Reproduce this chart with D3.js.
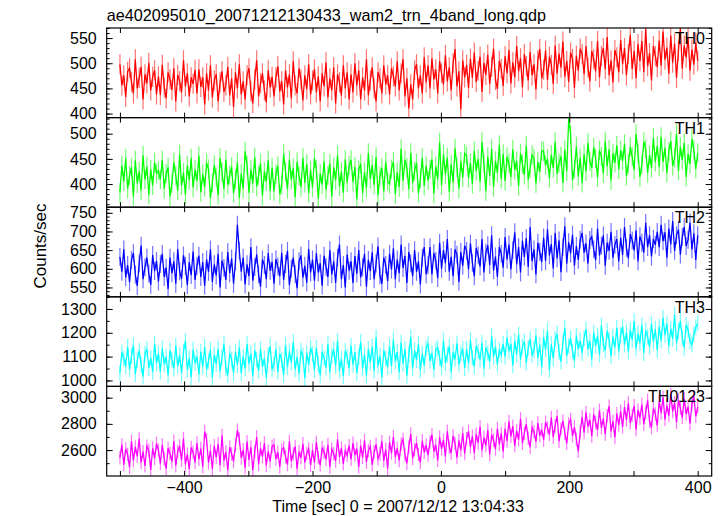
<!DOCTYPE html>
<html><head><meta charset="utf-8">
<script src="https://cdn.jsdelivr.net/npm/d3@7"></script>
<style>body{margin:0;background:#fff} text{font-family:"Liberation Sans",Arial,Helvetica,sans-serif;fill:#000}</style>
</head><body><svg id="c" width="724" height="516"></svg>
<script>
const title = "ae402095010_20071212130433_wam2_trn_4band_long.qdp";
const xLabel = "Time [sec] 0 = 2007/12/12 13:04:33";
const yLabel = "Counts/sec";
const bandNames = ["TH0","TH1","TH2","TH3","TH0123"];
const bandColors = ["#ff0000","#00ff00","#0000ff","#00ffff","#ff00ff"];
const binStart = -500, binSize = 3;
const xDomain = [-520.6, 421.8];
const xTickValues = [-500,-400,-300,-200,-100,0,100,200,300,400];
const xTickLabels = [-400,-200,0,200,400];

const th0 = [
498,456,476,433,483,490,463,440,508,450,471,493,428,478,460,501,446,473,486,438,
474,437,497,452,430,482,468,447,490,424,477,464,442,506,454,480,434,472,459,487,
440,488,453,472,418,480,446,496,432,466,478,424,462,484,443,456,493,436,470,413,
482,450,498,438,464,428,476,490,444,420,468,506,434,460,480,446,422,486,452,473,
434,472,494,444,464,418,486,452,478,430,504,456,440,490,468,426,476,448,498,438,
466,488,442,474,424,480,454,502,432,470,446,492,420,478,462,436,496,450,482,428,
478,442,500,456,486,428,472,446,508,436,466,492,450,424,482,470,440,496,458,476,
438,490,474,454,504,446,480,508,434,470,410,458,428,486,498,450,476,440,512,462,
496,450,510,468,488,440,504,480,458,516,464,492,446,500,528,454,484,408,506,472,
497,451,509,471,521,463,485,513,443,501,477,517,459,493,529,467,449,505,489,455,
514,480,526,460,502,472,534,484,510,452,518,494,466,522,476,498,448,506,528,470,
487,525,467,513,497,459,535,479,519,491,543,473,505,463,521,509,451,515,485,529,
518,478,534,492,464,524,508,484,544,472,514,530,488,552,476,506,462,526,512,482,
546,498,530,476,518,556,488,524,470,538,504,544,482,568,494,520,466,534,514,492,
545,495,563,507,531,479,555,501,539,471,525,569,489,535,511,551,485,527,497,541,
505];
const th1 = [
383,437,405,451,391,417,433,375,447,401,425,387,457,409,435,379,429,397,443,421,
427,409,447,391,421,433,375,401,443,417,387,459,397,423,379,437,407,451,393,429,
406,456,384,420,394,442,430,372,402,438,414,378,452,424,390,448,398,418,434,382,
409,443,373,421,391,465,437,383,429,401,453,395,417,441,377,425,405,447,387,433,
386,420,436,380,398,460,424,390,448,408,432,374,444,416,394,452,402,440,382,428,
393,451,429,371,421,399,445,389,417,441,375,433,407,457,395,425,383,449,403,437,
448,404,434,370,428,440,382,424,392,462,410,438,398,454,378,416,432,386,444,406,
400,430,444,380,424,394,470,406,448,432,390,462,402,426,442,382,410,452,396,436,
407,429,449,381,435,409,483,397,459,419,453,385,439,403,471,433,391,445,413,461,
456,412,442,400,466,426,450,404,484,440,386,454,416,470,394,446,422,478,410,460,
406,454,441,414,469,428,446,396,461,439,418,476,408,431,458,451,401,444,424,466,
465,437,450,412,458,432,484,420,442,455,402,468,425,530,498,408,430,475,415,452,
402,459,425,482,445,432,473,451,413,467,455,421,485,435,469,407,461,442,477,429,
467,446,480,416,440,474,454,428,500,462,414,438,484,470,422,458,432,492,444,476,
434,494,444,472,422,464,486,436,452,500,426,474,448,482,414,460,440,490,468,430,
462];
const th2 = [
632,592,652,577,610,564,624,642,584,554,614,662,572,604,630,587,557,637,594,621,
566,613,640,578,603,546,630,588,620,560,653,593,573,636,608,556,618,583,646,570,
608,635,578,618,555,625,592,652,565,612,582,640,550,622,602,570,645,588,628,560,
620,718,648,592,630,558,612,580,658,568,605,638,585,552,625,610,572,642,595,618,
560,626,606,580,643,570,613,648,556,600,630,586,548,620,636,576,608,563,653,590,
625,568,642,590,615,555,635,605,578,650,585,620,562,630,665,572,610,550,638,595,
620,562,634,587,650,577,604,640,552,624,594,644,572,614,660,582,560,630,610,567,
640,598,655,572,625,588,665,602,635,562,645,615,580,650,592,620,558,630,658,585,
610,658,585,642,622,575,670,600,650,615,680,592,632,580,652,638,565,645,608,662,
648,598,668,616,580,656,636,606,680,590,643,663,610,690,596,633,578,658,640,603,
685,625,665,598,650,698,612,658,590,675,632,682,605,712,620,652,585,670,645,618,
684,621,706,636,666,601,696,628,676,591,658,714,614,671,641,691,608,661,624,678,
696,643,668,614,677,686,652,623,708,636,662,689,608,670,648,699,630,664,680,620,
683,637,712,656,628,693,676,649,703,620,687,670,643,723,658,690,633,680,664,699,
658,718,674,698,630,708,665,728,648,690,705,638,685,712,661,678,724,652,695,624,
690];
const th3 = [
1032,1118,1092,1059,1141,1046,1102,1148,1026,1085,1125,1066,1016,1112,1132,1052,1095,1036,1155,1072,
1113,1037,1136,1067,1100,1021,1126,1087,1050,1146,1060,1106,1030,1120,1166,1044,1093,1014,1130,1073,
1101,1025,1121,1058,1141,1045,1081,1128,1012,1108,1068,1134,1038,1095,1154,1052,1022,1114,1088,1032,
1120,1063,1139,1030,1100,1050,1153,1070,1113,1017,1126,1087,1040,1133,1057,1093,1011,1106,1143,1047,
1069,1132,1036,1112,1085,1023,1148,1056,1122,1075,1161,1046,1099,1029,1125,1105,1009,1115,1065,1138,
1110,1044,1137,1067,1021,1120,1094,1054,1153,1034,1104,1130,1061,1167,1041,1091,1018,1124,1101,1051,
1145,1066,1119,1030,1099,1162,1050,1109,1020,1132,1076,1142,1040,1182,1060,1103,1013,1126,1093,1056,
1143,1060,1172,1080,1119,1034,1159,1070,1133,1020,1110,1182,1050,1126,1086,1152,1043,1113,1063,1136,
1152,1082,1115,1044,1127,1138,1094,1056,1168,1072,1107,1143,1036,1119,1089,1156,1066,1110,1132,1052,
1132,1071,1170,1095,1059,1145,1122,1087,1158,1049,1137,1115,1079,1185,1099,1142,1066,1129,1107,1153,
1100,1180,1122,1153,1064,1166,1110,1193,1087,1143,1163,1074,1137,1173,1105,1127,1188,1094,1150,1056,
1182,1129,1208,1045,1152,1092,1172,1195,1119,1079,1159,1221,1102,1145,1178,1122,1083,1188,1132,1167,
1115,1178,1214,1132,1165,1089,1201,1145,1188,1108,1231,1151,1125,1208,1171,1102,1184,1138,1221,1122,
1190,1226,1150,1203,1121,1213,1170,1249,1134,1197,1157,1233,1114,1210,1183,1140,1239,1163,1216,1127,
1226,1167,1263,1190,1240,1144,1217,1174,1276,1157,1207,1250,1180,1137,1233,1213,1164,1150,1193,1223,
1240];
const th0123 = [
2541,2640,2489,2609,2567,2468,2666,2520,2624,2552,2687,2505,2588,2479,2630,2598,2448,2614,2536,2650,
2600,2496,2641,2532,2459,2615,2574,2511,2667,2480,2589,2631,2522,2688,2490,2568,2454,2620,2584,2506,
2654,2529,2612,2472,2740,2680,2503,2596,2456,2633,2544,2648,2487,2711,2518,2586,2446,2622,2570,2513,
2638,2752,2685,2539,2602,2466,2664,2524,2622,2446,2586,2700,2492,2612,2550,2654,2482,2591,2513,2628,
2640,2531,2583,2471,2601,2619,2549,2489,2666,2515,2570,2627,2458,2588,2541,2648,2505,2575,2609,2484,
2599,2503,2659,2542,2485,2620,2584,2529,2641,2469,2607,2573,2516,2682,2547,2615,2495,2594,2560,2633,
2528,2653,2562,2611,2471,2632,2544,2674,2507,2596,2627,2487,2585,2643,2536,2570,2666,2518,2606,2458,
2660,2577,2702,2546,2614,2520,2645,2681,2562,2499,2624,2723,2536,2603,2655,2567,2504,2671,2582,2637,
2562,2661,2718,2588,2640,2521,2698,2609,2677,2552,2744,2620,2578,2708,2651,2542,2672,2599,2729,2573,
2686,2743,2623,2706,2576,2722,2654,2779,2597,2696,2634,2753,2566,2717,2675,2608,2764,2644,2727,2587,
2762,2668,2819,2704,2782,2632,2746,2678,2840,2652,2730,2798,2689,2621,2772,2741,2663,2808,2710,2756,
2677,2812,2771,2719,2849,2698,2786,2859,2667,2760,2823,2729,2651,2802,2833,2708,2776,2682,2590,2739,
2852,2732,2888,2779,2831,2706,2873,2810,2753,2904,2769,2842,2722,2862,2935,2743,2821,2696,2878,2790,
2896,2777,2928,2829,2959,2808,2865,2938,2756,2907,2844,2948,2798,2886,2980,2818,2772,2917,2876,2787,
2972,2884,3004,2832,2941,2863,3024,2894,2962,2811,2983,2920,2848,2993,2874,2931,2801,2952,3009,2858,
2930];
const bandValues = [th0, th1, th2, th3, th0123];
const bandErrors = [20, 19, 24, 33, 51];
const yDomains = [[392,570],[354,532],[525,765],[975,1351],[2402,3086]];
const yMajorTicks = [[400,450,500,550],[400,450,500],[550,600,650,700,750],[1000,1100,1200,1300],[2600,2800,3000]];
const yMinorSteps = [10,10,10,50,100];

const svg = d3.select("#c");
const L = 106.7, R = 711.7, T = 28, B = 476;
const ph = (B - T) / bandNames.length;
const x = d3.scaleLinear().domain(xDomain).range([L, R]);
const FONT = "Liberation Sans, Arial, sans-serif";

svg.append("text").attr("x", L).attr("y", 21).attr("font-size", 16.2).text(title);

bandNames.forEach((name, k) => {
  const top = T + k * ph, bot = top + ph;
  const y = d3.scaleLinear().domain(yDomains[k]).range([bot, top]);
  const vals = bandValues[k];
  const pts = vals.map((v, i) => ({t: binStart + i * binSize, v}));
  const g = svg.append("g");
  const cid = "clip" + k;
  svg.append("clipPath").attr("id", cid).append("rect")
    .attr("x", L).attr("y", top).attr("width", R - L).attr("height", ph);
  const dg = g.append("g").attr("clip-path", `url(#${cid})`);
  const err = bandErrors[k];
  dg.selectAll("line.eb").data(pts).enter().append("line")
    .attr("x1", d => x(d.t)).attr("x2", d => x(d.t))
    .attr("y1", d => y(d.v - err)).attr("y2", d => y(d.v + err))
    .attr("stroke", bandColors[k]).attr("stroke-opacity", 0.55).attr("stroke-width", 1.2);
  dg.append("path").datum(pts)
    .attr("d", d3.line().x(d => x(d.t)).y(d => y(d.v)))
    .attr("fill", "none").attr("stroke", bandColors[k]).attr("stroke-width", 1.25);

  const [d0, d1] = yDomains[k];
  const minor = d3.range(Math.ceil(d0 / yMinorSteps[k]) * yMinorSteps[k], d1 + 0.001, yMinorSteps[k]);
  const fmt = d3.format("d");
  const axL = g.append("g").attr("transform", `translate(${L},0)`)
    .call(d3.axisLeft(y).tickValues(yMajorTicks[k]).tickFormat(fmt).tickSizeInner(-6).tickSizeOuter(0).tickPadding(10));
  axL.select(".domain").remove();
  axL.selectAll("text").attr("font-size", 16).attr("font-family", FONT);
  const axLm = g.append("g").attr("transform", `translate(${L},0)`)
    .call(d3.axisLeft(y).tickValues(minor).tickSizeInner(-3).tickSizeOuter(0).tickFormat(""));
  axLm.select(".domain").remove();
  const axR = g.append("g").attr("transform", `translate(${R},0)`)
    .call(d3.axisRight(y).tickValues(yMajorTicks[k]).tickSizeInner(-6).tickSizeOuter(0).tickFormat(""));
  axR.select(".domain").remove();
  const axRm = g.append("g").attr("transform", `translate(${R},0)`)
    .call(d3.axisRight(y).tickValues(minor).tickSizeInner(-3).tickSizeOuter(0).tickFormat(""));
  axRm.select(".domain").remove();

  const axT = g.append("g").attr("transform", `translate(0,${top})`)
    .call(d3.axisTop(x).tickValues(xTickValues).tickSizeInner(-5).tickSizeOuter(0).tickFormat(""));
  axT.select(".domain").remove();
  const axB = g.append("g").attr("transform", `translate(0,${bot})`)
    .call(d3.axisBottom(x).tickValues(xTickValues).tickSizeInner(-5).tickSizeOuter(0)
      .tickFormat(d => xTickLabels.includes(d) && k === bandNames.length - 1 ? fmt(d).replace("-", "\u2212") : ""));
  axB.select(".domain").remove();
  axB.selectAll("text").attr("font-size", 16).attr("dy", 0).attr("y", 17).attr("font-family", FONT);

  g.selectAll(".tick line").attr("stroke", "#000").attr("stroke-width", 1);

  g.append("rect").attr("x", L).attr("y", top).attr("width", R - L).attr("height", ph)
    .attr("fill", "none").attr("stroke", "#000").attr("stroke-width", 1.2);

  g.append("text").attr("x", 705).attr("y", top + 16).attr("text-anchor", "end")
    .attr("font-size", 16).text(name);
});

svg.append("text").attr("x", 398).attr("y", 512).attr("text-anchor", "middle")
  .attr("font-size", 16).text(xLabel);
svg.append("text").attr("transform", "translate(46,246) rotate(-90)").attr("text-anchor", "middle")
  .attr("font-size", 17).text(yLabel);
</script></body></html>
